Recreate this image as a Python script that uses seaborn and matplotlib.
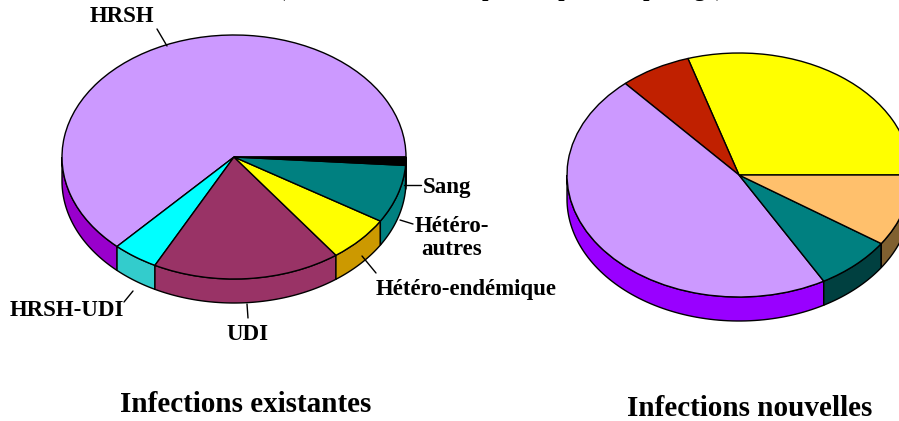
import numpy as np
import matplotlib
matplotlib.use("Agg")
import matplotlib.pyplot as plt
import seaborn as sns
from matplotlib.patches import Polygon

sns.set_theme(style="white")
plt.rcParams['font.family'] = ['Liberation Serif', 'DejaVu Serif']
plt.rcParams['text.color'] = 'black'

# ---------------- data ----------------
exist_labels = ["HRSH", "HRSH-UDI", "UDI", "Hétéro-endémique", "Hétéro-\nautres", "Sang"]
exist_values = [63.1, 4.3, 17.7, 6.1, 7.7, 1.1]
exist_top = ["#CC99FF", "#00FFFF", "#993366", "#FFFF00", "#008080", "#000000"]
exist_side = ["#9900CC", "#33CCCC", "#993366", "#CC9900", "#008080", "#000000"]

new_labels = ["Hétéro-endémique", "Autres", "HRSH", "Hétéro-autres", "UDI"]
new_values = [29.8, 6.7, 46.7, 7.3, 9.5]
new_top = ["#FFFF00", "#C02000", "#CC99FF", "#008080", "#FFC06C"]
new_side = ["#CC9900", "#801500", "#9900FF", "#004040", "#806030"]

titles = ["Infections existantes", "Infections nouvelles"]
header = "(estimations au total pour la période, par âge)"

# ---------------- layout ----------------
W, H = 899, 421
RX, RY, DEPTH = 172, 122, 24
k = RX / RY

fig = plt.figure(figsize=(W / 100, H / 100), dpi=100)
ax = fig.add_axes([0, 0, 1, 1])


def P(px, py):
    return px, (H - py) * k


def draw_pie(cxp, cyp, values, tops, sides):
    cx, cy = P(cxp, cyp)
    D = DEPTH * k
    ax.pie(values, colors=tops, startangle=0, counterclock=True, radius=RX,
           center=(cx, cy), frame=True,
           wedgeprops=dict(edgecolor="black", linewidth=1.0, zorder=2))
    ang = np.concatenate([[0], np.cumsum(values)]) / np.sum(values) * 360
    for a0, a1, c in zip(ang[:-1], ang[1:], sides):
        lo, hi = max(a0, 180), min(a1, 360)
        if hi <= lo:
            continue
        t = np.radians(np.linspace(lo, hi, 80))
        x = cx + RX * np.cos(t)
        y = cy + RX * np.sin(t)
        pts = np.concatenate([np.c_[x, y], np.c_[x[::-1], y[::-1] - D]])
        ax.add_patch(Polygon(pts, closed=True, fc=c, ec="black", lw=1.0, zorder=1))


draw_pie(234, 157, exist_values, exist_top, exist_side)
draw_pie(739, 175, new_values, new_top, new_side)

ax.set_aspect("auto")
ax.set_xlim(0, W)
ax.set_ylim(0, H * k)
ax.axis("off")

lab_fs = 16.5
tfont = dict(fontsize=lab_fs, fontweight="bold", color="black")

# label positions (pixel coords) and leader lines
label_pos = {
    "HRSH": ((122, 16), "center", ((157, 29), (167, 46))),
    "Sang": ((423, 188), "left", ((404, 185), (421, 185))),
    "Hétéro-\nautres": ((452, 238), "center", ((400, 220), (413, 224))),
    "Hétéro-endémique": ((466, 290), "center", ((362, 256), (376, 273))),
    "UDI": ((248, 334), "center", ((247, 304), (248, 318))),
    "HRSH-UDI": ((67, 310), "center", ((133, 291), (124, 302))),
}
for lab in exist_labels:
    (px, py), ha, (p0, p1) = label_pos[lab]
    ax.text(*P(px, py), lab, ha=ha, va="center", linespacing=1.15, **tfont)
    x0, y0 = P(*p0)
    x1, y1 = P(*p1)
    ax.plot([x0, x1], [y0, y1], color="black", lw=1.0, zorder=3)

ax.text(*P(246, 405), titles[0], ha="center", va="center", fontsize=21,
        fontweight="bold", color="black")
ax.text(*P(750, 408), titles[1], ha="center", va="center", fontsize=21,
        fontweight="bold", color="black")
ax.text(*P(501, -4), header, ha="center", va="baseline", fontsize=lab_fs,
        fontweight="bold", color="black")

fig.savefig("out.png", dpi=100)
